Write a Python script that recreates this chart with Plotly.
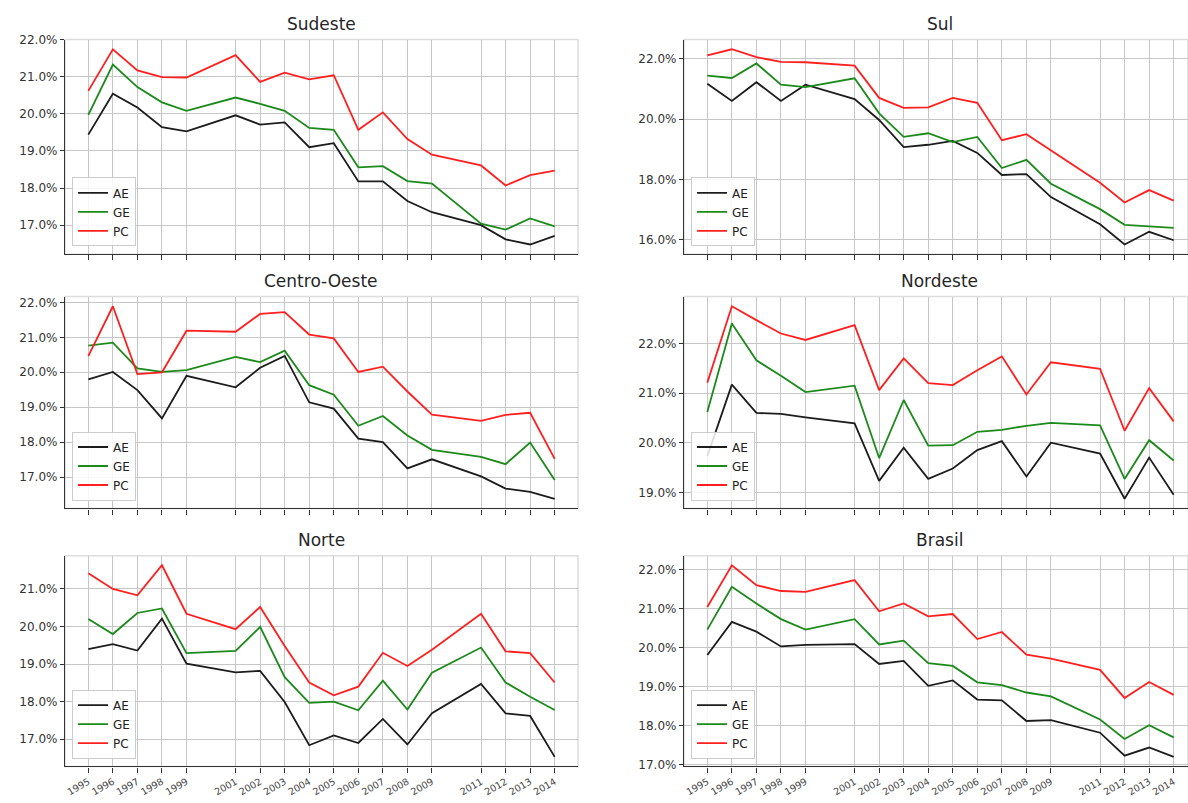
import plotly.graph_objects as go

# ---------------- data ----------------
years = [1995, 1996, 1997, 1998, 1999, 2001, 2002, 2003, 2004, 2005,
         2006, 2007, 2008, 2009, 2011, 2012, 2013, 2014]

series_names = ["AE", "GE", "PC"]

sudeste_AE = [19.44, 20.54, 20.17, 19.64, 19.53, 19.96, 19.71, 19.77, 19.10, 19.21, 18.18, 18.18, 17.65, 17.35, 17.00, 16.62, 16.48, 16.71]
sudeste_GE = [19.97, 21.33, 20.72, 20.31, 20.08, 20.44, 20.27, 20.08, 19.62, 19.57, 18.56, 18.59, 18.19, 18.12, 17.04, 16.88, 17.18, 16.97]
sudeste_PC = [20.62, 21.74, 21.17, 20.99, 20.98, 21.58, 20.86, 21.11, 20.93, 21.04, 19.57, 20.04, 19.32, 18.90, 18.61, 18.07, 18.35, 18.47]

sul_AE = [21.17, 20.60, 21.22, 20.60, 21.14, 20.66, 19.97, 19.07, 19.15, 19.28, 18.88, 18.15, 18.18, 17.42, 16.52, 15.85, 16.27, 15.99]
sul_GE = [21.44, 21.36, 21.84, 21.14, 21.06, 21.35, 20.19, 19.41, 19.53, 19.24, 19.41, 18.38, 18.65, 17.86, 17.02, 16.50, 16.45, 16.40]
sul_PC = [22.11, 22.31, 22.05, 21.89, 21.88, 21.77, 20.70, 20.37, 20.39, 20.70, 20.54, 19.30, 19.50, 18.96, 17.89, 17.24, 17.65, 17.30]

co_AE = [19.80, 20.01, 19.49, 18.68, 19.90, 19.57, 20.13, 20.47, 19.14, 18.96, 18.10, 18.00, 17.25, 17.51, 17.02, 16.67, 16.58, 16.38]
co_GE = [20.76, 20.85, 20.11, 20.01, 20.06, 20.44, 20.29, 20.62, 19.63, 19.36, 18.47, 18.75, 18.19, 17.78, 17.58, 17.37, 17.99, 16.92]
co_PC = [20.46, 21.89, 19.95, 20.00, 21.19, 21.16, 21.67, 21.72, 21.08, 20.97, 20.01, 20.16, 19.45, 18.79, 18.61, 18.78, 18.84, 17.52]

ne_AE = [19.73, 21.17, 20.60, 20.58, 20.51, 20.39, 19.23, 19.90, 19.27, 19.48, 19.85, 20.03, 19.32, 20.00, 19.78, 18.87, 19.70, 18.95]
ne_GE = [20.62, 22.40, 21.66, 21.35, 21.02, 21.15, 19.69, 20.86, 19.94, 19.95, 20.22, 20.26, 20.34, 20.40, 20.35, 19.27, 20.05, 19.64]
ne_PC = [21.21, 22.75, 22.47, 22.20, 22.07, 22.37, 21.06, 21.70, 21.20, 21.16, 21.46, 21.74, 20.97, 21.62, 21.49, 20.24, 21.10, 20.43]

norte_AE = [19.40, 19.53, 19.36, 20.21, 19.01, 18.78, 18.82, 17.99, 16.84, 17.10, 16.90, 17.54, 16.86, 17.69, 18.47, 17.69, 17.62, 16.53]
norte_GE = [20.20, 19.80, 20.36, 20.48, 19.29, 19.35, 19.99, 18.65, 17.97, 18.00, 17.77, 18.56, 17.79, 18.77, 19.44, 18.51, 18.13, 17.78]
norte_PC = [21.42, 21.00, 20.83, 21.63, 20.34, 19.93, 20.52, 19.48, 18.51, 18.17, 18.40, 19.30, 18.95, 19.38, 20.34, 19.34, 19.29, 18.51]

brasil_AE = [19.81, 20.66, 20.41, 20.03, 20.07, 20.09, 19.58, 19.66, 19.02, 19.16, 18.67, 18.65, 18.12, 18.14, 17.82, 17.23, 17.44, 17.20]
brasil_GE = [20.46, 21.56, 21.13, 20.73, 20.46, 20.73, 20.08, 20.18, 19.60, 19.53, 19.11, 19.04, 18.85, 18.75, 18.16, 17.66, 18.01, 17.70]
brasil_PC = [21.04, 22.11, 21.60, 21.45, 21.43, 21.73, 20.93, 21.13, 20.80, 20.86, 20.22, 20.40, 19.82, 19.72, 19.43, 18.71, 19.12, 18.79]

panel_titles = ["Sudeste", "Sul", "Centro-Oeste", "Nordeste", "Norte", "Brasil"]
panel_data = [
    (sudeste_AE, sudeste_GE, sudeste_PC),
    (sul_AE, sul_GE, sul_PC),
    (co_AE, co_GE, co_PC),
    (ne_AE, ne_GE, ne_PC),
    (norte_AE, norte_GE, norte_PC),
    (brasil_AE, brasil_GE, brasil_PC),
]
panel_dtick = [1, 2, 1, 1, 1, 1]

# ---------------- layout / style ----------------
W, H = 1188, 803
col_px = [(65, 578), (684, 1188)]
col_full_right = [578, 1195]          # right column is cropped by the page edge
row_px = [(33, 251), (294, 509), (557, 771)]
x_lo, x_hi = 1994.05, 2014.95
ppy = (col_px[0][1] - col_px[0][0]) / (x_hi - x_lo)

colors = {"AE": "#1c1c1c", "GE": "#1b8a1b", "PC": "#ff1f1f"}
grid_c = "#c6c6c6"
axis_c = "#333333"
font_family = "DejaVu Sans"

fig = go.Figure()
layout = dict(
    width=W, height=H,
    margin=dict(l=0, r=0, t=0, b=0),
    paper_bgcolor="white", plot_bgcolor="white",
    font=dict(family=font_family, color="#262626"),
    annotations=[], shapes=[],
)

for i, title in enumerate(panel_titles):
    r, c = divmod(i, 2)
    n = i + 1
    xs = "" if n == 1 else str(n)
    x0p, x1p = col_px[c]
    ytp, ybp = row_px[r]
    leg_id = "legend" if n == 1 else f"legend{n}"

    vals = panel_data[i]
    allv = [v for s in vals for v in s]
    vmin, vmax = min(allv), max(allv)
    pad = 0.05 * (vmax - vmin)

    for name, s in zip(series_names, vals):
        fig.add_trace(go.Scatter(
            x=years, y=s, mode="lines", name=name,
            line=dict(color=colors[name], width=1.8),
            xaxis=f"x{xs}", yaxis=f"y{xs}", legend=leg_id,
        ))

    xr_hi = x_lo + (x1p - x0p) / ppy
    layout[f"xaxis{xs}"] = dict(
        domain=[x0p / W, x1p / W], anchor=f"y{xs}",
        range=[x_lo, xr_hi],
        tickmode="array", tickvals=years,
        ticktext=[str(y) for y in years],
        showticklabels=(r == 2), tickangle=-30,
        tickfont=dict(size=9.5, color="#444444"),
        ticks="outside", ticklen=5, tickcolor=axis_c, tickwidth=1,
        showgrid=True, gridcolor=grid_c, gridwidth=1,
        showline=True, linecolor=axis_c, linewidth=1.3,
        zeroline=False,
    )
    layout[f"yaxis{xs}"] = dict(
        domain=[1 - ybp / H, 1 - ytp / H], anchor=f"x{xs}",
        range=[vmin - pad, vmax + pad],
        tick0=0, dtick=panel_dtick[i],
        tickformat=".1f", ticksuffix="%",
        tickfont=dict(size=12, color="#333333"),
        ticks="outside", ticklen=4, tickcolor=axis_c, tickwidth=1,
        showgrid=True, gridcolor=grid_c, gridwidth=1,
        showline=True, linecolor=axis_c, linewidth=1.3,
        zeroline=False,
    )
    layout[leg_id] = dict(
        x=(x0p + 7) / W, y=1 - (ybp - 8) / H,
        xanchor="left", yanchor="bottom",
        bgcolor="rgba(255,255,255,0.85)",
        bordercolor="#cccccc", borderwidth=1,
        font=dict(size=12, color="#222222", family=font_family),
        itemwidth=30, tracegroupgap=0,
    )
    layout["shapes"].append(dict(
        type="rect", xref=f"x{xs} domain", yref=f"y{xs} domain",
        x0=0, x1=1, y0=0, y1=1, layer="below",
        line=dict(color="#dddddd", width=1.5),
    ))
    layout["annotations"].append(dict(
        text=title, showarrow=False,
        xref="paper", yref="paper",
        x=(x0p + col_full_right[c]) / 2 / W, y=1 - (ytp - 16) / H,
        xanchor="center", yanchor="middle",
        font=dict(size=17, color="#262626", family=font_family),
    ))

fig.update_layout(**layout)
fig.write_html(
    "out.html",
    config={"displayModeBar": False},
    post_script="document.body.style.margin='0';document.body.style.overflow='hidden';",
)
